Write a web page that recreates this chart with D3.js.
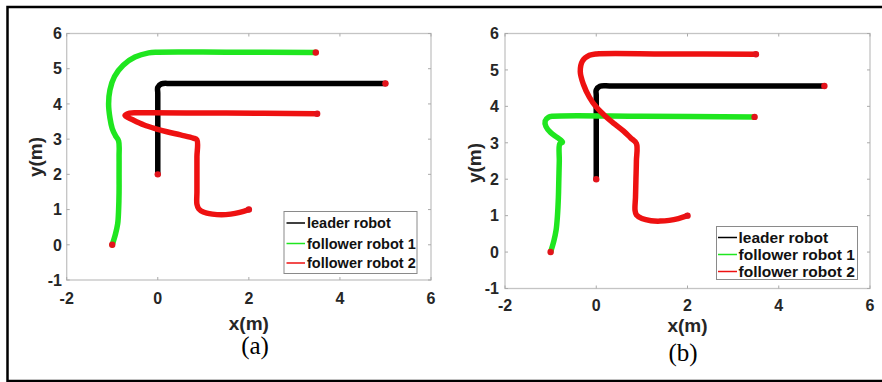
<!DOCTYPE html>
<html>
<head>
<meta charset="utf-8">
<script src="https://cdn.jsdelivr.net/npm/d3@7"></script>
<style>
  body { margin: 0; background: #fff; }
  svg { display: block; }
</style>
</head>
<body>
<div id="chart"></div>
<script>
// Data
const xTicks = [-2, 0, 2, 4, 6];
const yTicks = [-1, 0, 1, 2, 3, 4, 5, 6];
const seriesNames = ["leader robot", "follower robot 1", "follower robot 2"];
const seriesColors = ["#000000", "#1fe61f", "#ee1111"];
const captions = ["(a)", "(b)"];

// panel (a)
const leaderA = [[0, 2], [0, 3.0], [0, 4.3], [0, 4.47], [0.08, 4.57], [0.3, 4.58], [1.0, 4.58], [5, 4.58]];
const follower1A = [[-1.0, 0], [-0.93, 0.3], [-0.88, 0.6], [-0.86, 1.0], [-0.85, 1.5], [-0.85, 2.0],
  [-0.85, 2.5], [-0.86, 2.95], [-0.93, 3.1], [-1.0, 3.3], [-1.05, 3.6], [-1.08, 4.0], [-1.05, 4.4],
  [-0.95, 4.78], [-0.76, 5.1], [-0.5, 5.33], [-0.2, 5.45], [0.0, 5.47], [1.5, 5.47], [3.47, 5.46]];
const follower2A = [[2.0, 1.0], [1.8, 0.92], [1.6, 0.87], [1.4, 0.85], [1.2, 0.87], [1.0, 0.93],
  [0.9, 1.02], [0.86, 1.15], [0.86, 1.5], [0.86, 2.0], [0.86, 2.5], [0.86, 2.98], [0.78, 3.03],
  [0.5, 3.12], [0.2, 3.21], [0.0, 3.28], [-0.3, 3.4], [-0.55, 3.55], [-0.72, 3.67], [-0.62, 3.74],
  [-0.4, 3.75], [1.5, 3.74], [3.5, 3.72]];

// panel (b)
const leaderB = [[0, 2], [0, 3.0], [0, 4.3], [0, 4.45], [0.08, 4.55], [0.3, 4.56], [1.0, 4.56], [5, 4.56]];
const follower1B = [[-1.0, 0], [-0.93, 0.3], [-0.88, 0.6], [-0.85, 1.0], [-0.83, 1.5], [-0.82, 2.0],
  [-0.81, 2.5], [-0.8, 2.97], [-0.74, 3.02], [-0.85, 3.14], [-1.0, 3.28], [-1.1, 3.44], [-1.12, 3.6],
  [-1.05, 3.7], [-0.95, 3.73], [1.0, 3.73], [3.47, 3.71]];
const follower2B = [[2.0, 1.0], [1.8, 0.92], [1.6, 0.87], [1.4, 0.85], [1.2, 0.86], [1.0, 0.92],
  [0.88, 1.02], [0.85, 1.15], [0.86, 1.5], [0.87, 2.0], [0.88, 2.5], [0.88, 2.98], [0.75, 3.14],
  [0.6, 3.32], [0.4, 3.52], [0.2, 3.73], [0.0, 3.98], [-0.15, 4.25], [-0.28, 4.6], [-0.35, 4.95],
  [-0.3, 5.25], [-0.15, 5.4], [0.0, 5.44], [1.5, 5.44], [3.5, 5.43]];

const width = 882, height = 382;

const svg = d3.select("#chart").append("svg")
  .attr("width", width)
  .attr("height", height);

// outer frame
svg.append("rect")
  .attr("x", 7.5).attr("y", 7)
  .attr("width", 890).attr("height", 374)
  .attr("fill", "none")
  .attr("stroke", "#000")
  .attr("stroke-width", 2.5);

const panels = [
  {
    series: [leaderA, follower1A, follower2A],
    xRange: [66.7, 431], yRange: [280, 33.5],
    xLabelY: 303.5, yLabelX: 62, xTitleY: 330, yTitleX: 42, yTitleY: 157,
    capX: 255, capY: 354,
    legend: { x: 284, y: 211.5, w: 133, h: 62, rows: [223, 243.5, 263], lineX: [286.5, 305], textX: 307, font: 14.5 }
  },
  {
    series: [leaderB, follower1B, follower2B],
    xRange: [505, 870], yRange: [288.5, 33.5],
    xLabelY: 310.5, yLabelX: 499, xTitleY: 332, yTitleX: 481, yTitleY: 163,
    capX: 683, capY: 361,
    legend: { x: 716.5, y: 226.5, w: 141, h: 53, rows: [237.5, 254.5, 271.5], lineX: [718, 737], textX: 738.5, font: 15.5 }
  }
];

panels.forEach(function (p, pi) {
  const x = d3.scaleLinear().domain([-2, 6]).range(p.xRange);
  const y = d3.scaleLinear().domain([-1, 6]).range(p.yRange);
  const g = svg.append("g");

  // axis box
  g.append("rect")
    .attr("x", x(-2)).attr("y", y(6))
    .attr("width", x(6) - x(-2)).attr("height", y(-1) - y(6))
    .attr("fill", "none")
    .attr("stroke", "#c4c4c4")
    .attr("stroke-width", 1.3);

  // inward ticks on all sides
  const tickLen = 3;
  g.selectAll(".xt").data(xTicks).enter().append("path")
    .attr("d", d => `M${x(d)},${y(-1)}v${-tickLen}M${x(d)},${y(6)}v${tickLen}`)
    .attr("stroke", "#aaa").attr("stroke-width", 1);
  g.selectAll(".yt").data(yTicks).enter().append("path")
    .attr("d", d => `M${x(-2)},${y(d)}h${tickLen}M${x(6)},${y(d)}h${-tickLen}`)
    .attr("stroke", "#aaa").attr("stroke-width", 1);

  // tick labels
  g.selectAll(".xl").data(xTicks).enter().append("text")
    .attr("x", d => x(d))
    .attr("y", p.xLabelY)
    .attr("text-anchor", "middle")
    .attr("font-family", "Liberation Sans, Arial, sans-serif")
    .attr("font-weight", "bold")
    .attr("font-size", 16)
    .attr("fill", "#262626")
    .text(d => d);
  g.selectAll(".yl").data(yTicks).enter().append("text")
    .attr("x", p.yLabelX)
    .attr("y", d => y(d))
    .attr("dy", "0.36em")
    .attr("text-anchor", "end")
    .attr("font-family", "Liberation Sans, Arial, sans-serif")
    .attr("font-weight", "bold")
    .attr("font-size", 16)
    .attr("fill", "#262626")
    .text(d => d);

  // axis titles
  g.append("text")
    .attr("x", x(2)).attr("y", p.xTitleY)
    .attr("text-anchor", "middle")
    .attr("font-family", "Liberation Sans, Arial, sans-serif")
    .attr("font-weight", "bold")
    .attr("font-size", 19)
    .attr("fill", "#262626")
    .text("x(m)");
  g.append("text")
    .attr("transform", `translate(${p.yTitleX},${p.yTitleY}) rotate(-90)`)
    .attr("text-anchor", "middle")
    .attr("font-family", "Liberation Sans, Arial, sans-serif")
    .attr("font-weight", "bold")
    .attr("font-size", 19)
    .attr("fill", "#262626")
    .text("y(m)");

  // trajectories
  const line = d3.line()
    .x(d => x(d[0]))
    .y(d => y(d[1]))
    .curve(d3.curveCatmullRom.alpha(0.5));

  g.selectAll(".traj").data(p.series).enter().append("path")
    .attr("d", line)
    .attr("fill", "none")
    .attr("stroke", (d, i) => seriesColors[i])
    .attr("stroke-width", 5.5)
    .attr("stroke-linejoin", "round")
    .attr("stroke-linecap", "round");

  // start / end markers
  const ends = [];
  p.series.forEach(s => { ends.push(s[0]); ends.push(s[s.length - 1]); });
  g.selectAll(".end").data(ends).enter().append("circle")
    .attr("cx", d => x(d[0]))
    .attr("cy", d => y(d[1]))
    .attr("r", 3.2)
    .attr("fill", "#e3131b");

  // legend
  const L = p.legend;
  g.append("rect")
    .attr("x", L.x).attr("y", L.y)
    .attr("width", L.w).attr("height", L.h)
    .attr("fill", "#fff")
    .attr("stroke", "#8a8a8a")
    .attr("stroke-width", 1);
  seriesNames.forEach(function (name, i) {
    g.append("line")
      .attr("x1", L.lineX[0]).attr("x2", L.lineX[1])
      .attr("y1", L.rows[i]).attr("y2", L.rows[i])
      .attr("stroke", seriesColors[i])
      .attr("stroke-width", 1.5);
    g.append("text")
      .attr("x", L.textX).attr("y", L.rows[i])
      .attr("dy", "0.36em")
      .attr("font-family", "Liberation Sans, Arial, sans-serif")
      .attr("font-weight", "bold")
      .attr("font-size", L.font)
      .attr("fill", "#111")
      .text(name);
  });

  // caption
  svg.append("text")
    .attr("x", p.capX).attr("y", p.capY)
    .attr("text-anchor", "middle")
    .attr("font-family", "Liberation Serif, Times New Roman, serif")
    .attr("font-size", 25)
    .attr("fill", "#000")
    .text(captions[pi]);
});
</script>
</body>
</html>
